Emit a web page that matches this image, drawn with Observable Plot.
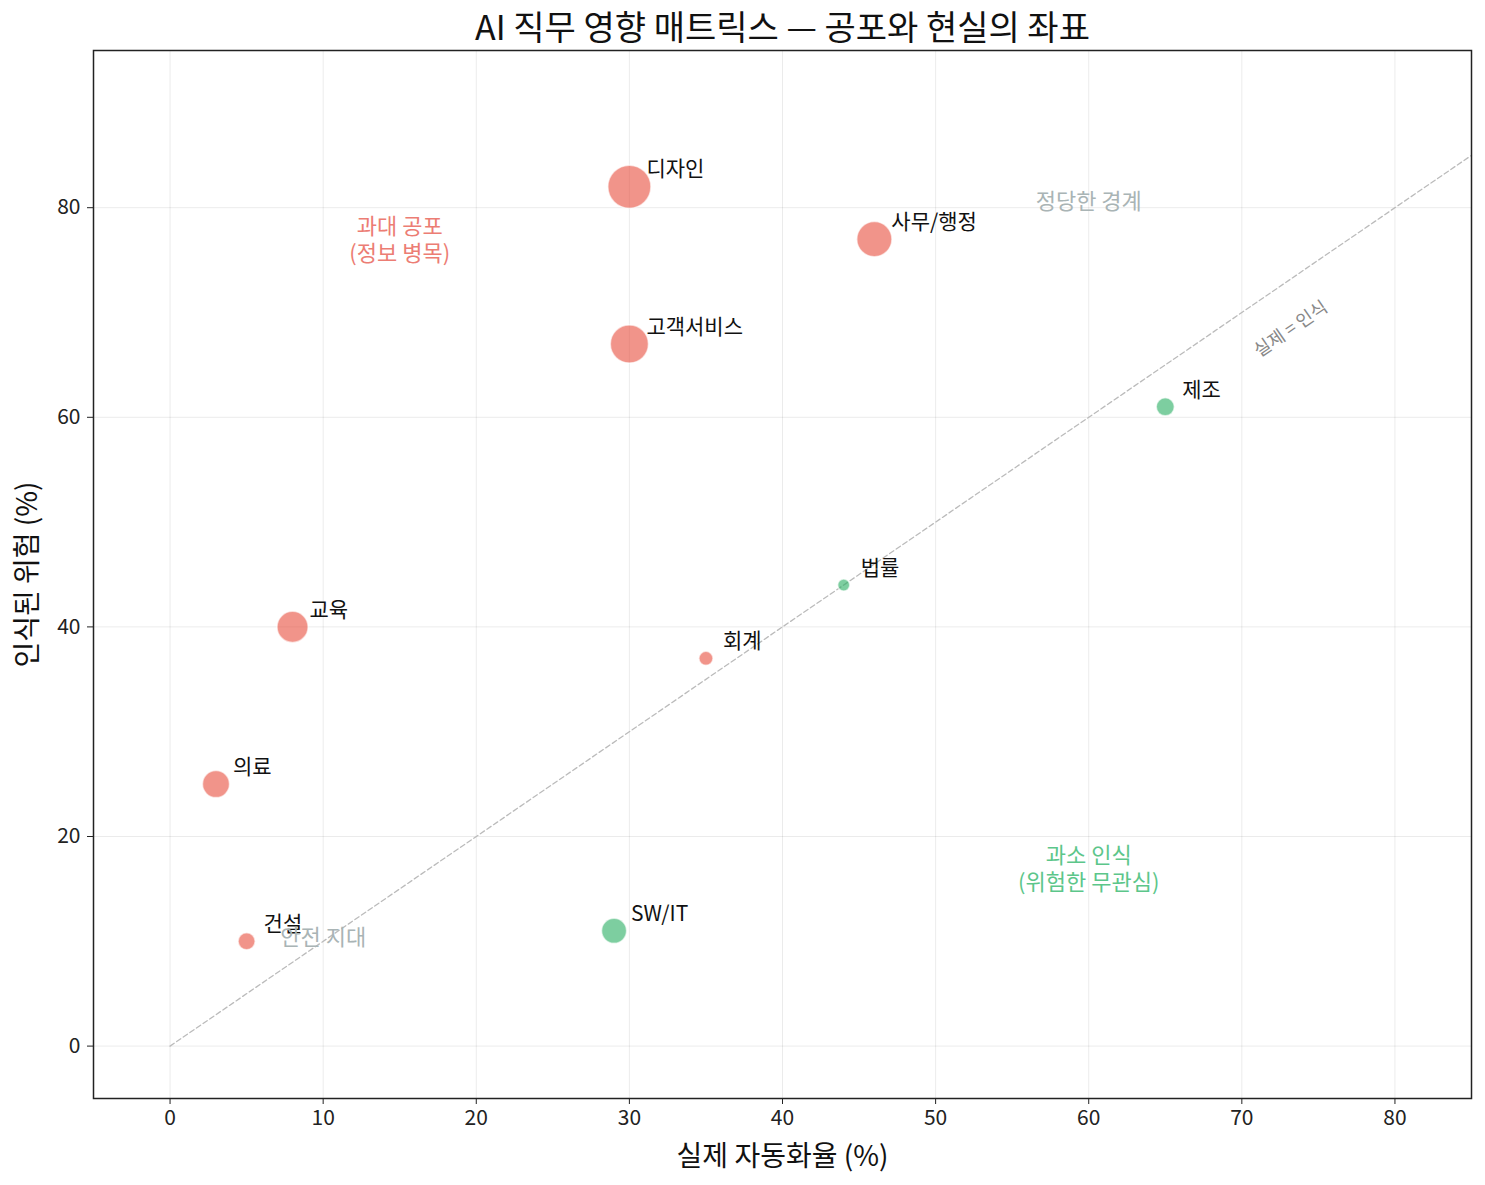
<!DOCTYPE html>
<html><head><meta charset="utf-8">
<script src="https://cdn.jsdelivr.net/npm/d3@7"></script>
<script src="https://cdn.jsdelivr.net/npm/@observablehq/plot@0.6"></script>
<style>
body{margin:0;background:#fff;font-family:"Noto Sans CJK KR","Noto Sans",sans-serif;}
</style></head><body><div id="chart"></div>
<script>
const jobs = ["디자인","사무/행정","고객서비스","제조","법률","교육","회계","의료","건설","SW/IT"];
const actual = [30, 46, 30, 65, 44, 8, 35, 3, 5, 29];
const perceived = [82, 77, 67, 61, 44, 40, 37, 25, 10, 11];
const bubble = [460, 306, 361, 81, 36, 240, 49, 182, 72, 156];
const xTicks = [0,10,20,30,40,50,60,70,80];
const yTicks = [0,20,40,60,80];
const quadrants = [
  {label:"과대 공포\n(정보 병목)", x:15, y:77, kind:"fear"},
  {label:"정당한 경계", x:60, y:80.7, kind:"neutral"},
  {label:"과소 인식\n(위험한 무관심)", x:60, y:17, kind:"under"},
  {label:"안전 지대", x:10, y:10.5, kind:"neutral"}
];
const diagonal = [{x:0,y:0},{x:85,y:85}];

const data = jobs.map((j,i)=>({job:j, x:actual[i], y:perceived[i], s:bubble[i], over: perceived[i] > actual[i]}));
const font = '"Noto Sans CJK KR","Noto Sans",sans-serif';
const qColor = {fear:"#ec7d74", neutral:"#a9b4b5", under:"#5cc68a"};

const plot = Plot.plot({
  width:1485, height:1185,
  marginLeft:93, marginRight:14, marginTop:50, marginBottom:87,
  style:{fontFamily:font, fontSize:"20px", color:"#222", background:"#fff"},
  x:{domain:[-5,85], ticks:xTicks, label:null, grid:false},
  y:{domain:[-5,95], ticks:yTicks, label:null, grid:false},
  r:{type:"sqrt", domain:[0,460], range:[0,21.5]},
  marks:[
    Plot.gridX(xTicks,{stroke:"#000", strokeOpacity:0.08, strokeWidth:1}),
    Plot.gridY(yTicks,{stroke:"#000", strokeOpacity:0.08, strokeWidth:1}),
    Plot.line(diagonal,{x:"x",y:"y",stroke:"#bbb",strokeWidth:1.3,strokeDasharray:"5,3"}),
    Plot.text(["실제 = 인식"],{x:[73.2],y:[68.4],text:d=>d,rotate:-34.4,fill:"#888",fontSize:18}),
    Plot.dot(data,{x:"x",y:"y",r:"s",fill:d=>d.over?"#E74C3C":"#27AE60",fillOpacity:0.6,stroke:"#fff",strokeOpacity:0.6,strokeWidth:1.5}),
    Plot.text(data,{x:"x",y:"y",text:"job",dx:17,dy:-17,textAnchor:"start",fill:"#111",fontSize:21}),
    Plot.text(quadrants,{x:"x",y:"y",text:"label",fill:d=>qColor[d.kind],fontSize:22,lineHeight:1.2}),
    Plot.frame({stroke:"#222",strokeWidth:1.5}),
    Plot.axisX(xTicks,{tickSize:6,tickPadding:6,fontSize:21,fill:"#222",stroke:"#222",label:null}),
    Plot.axisY(yTicks,{tickSize:6,tickPadding:7,fontSize:21,fill:"#222",stroke:"#222",label:null}),
    Plot.text(["AI 직무 영향 매트릭스 — 공포와 현실의 좌표"],{frameAnchor:"top",lineAnchor:"middle",dy:-21,fontSize:34,fill:"#111"}),
    Plot.text(["실제 자동화율 (%)"],{frameAnchor:"bottom",lineAnchor:"middle",dy:59,fontSize:28,fill:"#111"}),
    Plot.text(["인식된 위험 (%)"],{frameAnchor:"left",textAnchor:"middle",lineAnchor:"middle",dx:-65,rotate:-90,fontSize:28,fill:"#111"})
  ]
});
document.getElementById("chart").appendChild(plot);
</script></body></html>
